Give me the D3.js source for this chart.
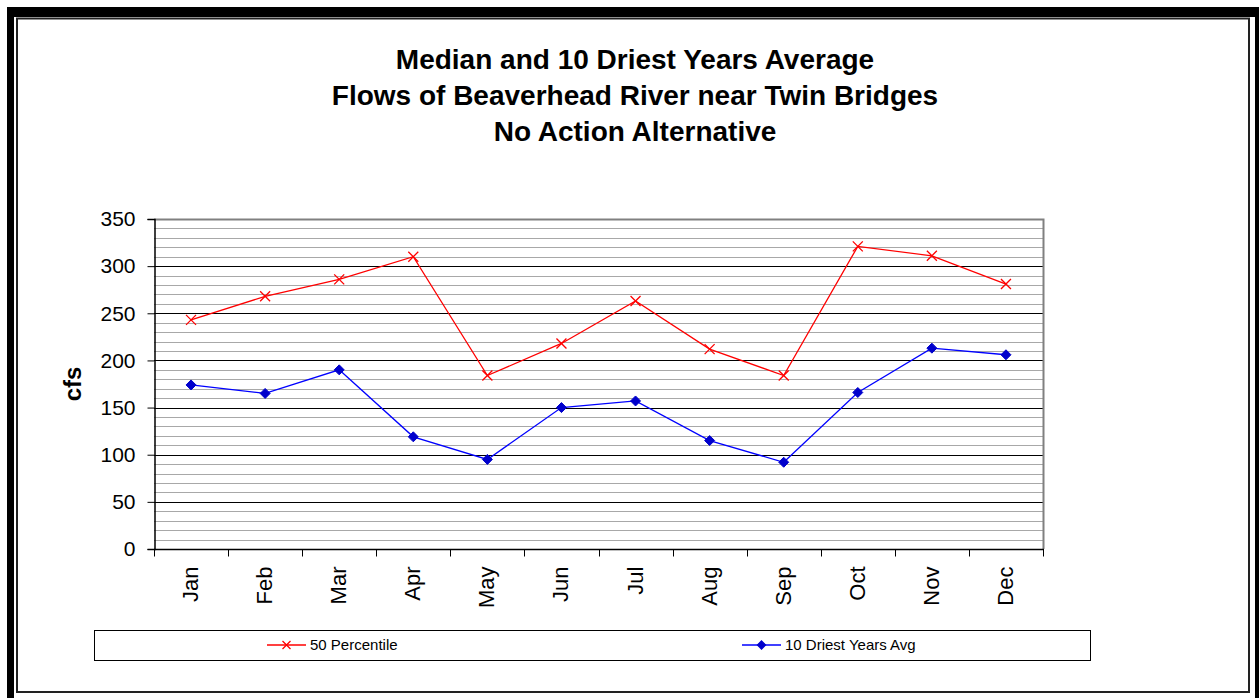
<!DOCTYPE html>
<html>
<head>
<meta charset="utf-8">
<script src="https://cdn.jsdelivr.net/npm/d3@7"></script>
<style>
  body { margin: 0; background: #fff; }
  text { font-family: Arial, "Liberation Sans", sans-serif; }
</style>
</head>
<body>
<script>
// chart data
const months = ["Jan", "Feb", "Mar", "Apr", "May", "Jun", "Jul", "Aug", "Sep", "Oct", "Nov", "Dec"];
const percentile50 = [243, 268, 286, 310, 184, 218, 263, 212, 184, 321, 311, 281];
const driestAvg = [174, 165, 190, 119, 95, 150, 157, 115, 92, 166, 213, 206];
const yTicks = [0, 50, 100, 150, 200, 250, 300, 350];
const titleLines = ["Median and 10 Driest Years Average", "Flows of Beaverhead River near Twin Bridges", "No Action Alternative"];

const W = 1259, H = 698;
const plot = { left: 154, top: 219, right: 1043, bottom: 549 };

let svg = d3.select("body").append("svg")
    .attr("width", W)
    .attr("height", H);

// outer frame
svg.append("rect").attr("x", 7).attr("y", 7).attr("width", W - 7).attr("height", H - 7).attr("fill", "#000");
svg.append("rect").attr("x", 14).attr("y", 17).attr("width", 1255 - 14).attr("height", H - 17).attr("fill", "#fff");
svg.append("rect")
    .attr("x", 17).attr("y", 18.5)
    .attr("width", 1249 - 17).attr("height", 692 - 18.5)
    .attr("fill", "none")
    .attr("stroke", "#222")
    .attr("stroke-width", 2);

// title
svg.append("text")
    .attr("text-anchor", "middle")
    .attr("font-size", 28)
    .attr("font-weight", "bold")
    .selectAll("tspan")
    .data(titleLines)
    .enter().append("tspan")
    .attr("x", 635)
    .attr("y", (d, i) => 69 + i * 36)
    .text(d => d);

const x = d3.scaleBand().domain(months).range([plot.left, plot.right]);
const y = d3.scaleLinear().domain([0, 350]).range([plot.bottom, plot.top]);

// minor grid
svg.append("g")
    .selectAll("line")
    .data(d3.range(10, 350, 10).filter(v => v % 50 != 0))
    .enter().append("line")
    .attr("x1", plot.left).attr("x2", plot.right)
    .attr("y1", d => Math.round(y(d)) + 0.5).attr("y2", d => Math.round(y(d)) + 0.5)
    .attr("stroke", "#a8a8a8");

// major grid
svg.append("g")
    .selectAll("line")
    .data(yTicks.slice(1, -1))
    .enter().append("line")
    .attr("x1", plot.left).attr("x2", plot.right)
    .attr("y1", d => Math.round(y(d)) + 0.5).attr("y2", d => Math.round(y(d)) + 0.5)
    .attr("stroke", "#000");

// plot area border (top/right gray)
svg.append("path")
    .attr("d", `M${plot.left},${plot.top + 0.5}H${plot.right + 0.5}V${plot.bottom}`)
    .attr("fill", "none")
    .attr("stroke", "#808080")
    .attr("stroke-width", 2);

// y axis
let yAxis = svg.append("g")
    .attr("transform", `translate(${plot.left + 0.5},0)`)
    .call(d3.axisLeft(y).tickValues(yTicks).tickSize(7).tickPadding(12));
yAxis.selectAll("text").attr("font-size", 21).attr("fill", "#000").attr("font-family", "Arial, 'Liberation Sans', sans-serif");
yAxis.selectAll("line").attr("stroke", "#000");
yAxis.select(".domain").attr("stroke", "#000").attr("stroke-width", 1.5);

// x axis
let xAxis = svg.append("g")
    .attr("transform", `translate(0,${plot.bottom + 0.5})`);
xAxis.append("line")
    .attr("x1", plot.left).attr("x2", plot.right + 1)
    .attr("stroke", "#000").attr("stroke-width", 1.5);
xAxis.selectAll(".tick")
    .data(months.concat(["end"]))
    .enter().append("line")
    .attr("x1", (d, i) => Math.round(plot.left + i * x.step()) + 0.5)
    .attr("x2", (d, i) => Math.round(plot.left + i * x.step()) + 0.5)
    .attr("y1", 0).attr("y2", 7)
    .attr("stroke", "#000");
xAxis.selectAll("text")
    .data(months)
    .enter().append("text")
    .attr("transform", d => `translate(${x(d) + x.bandwidth() / 2 + 7},17) rotate(-90)`)
    .attr("text-anchor", "end")
    .attr("font-size", 22)
    .text(d => d);

// y label
svg.append("text")
    .attr("transform", "translate(81,384) rotate(-90)")
    .attr("text-anchor", "middle")
    .attr("font-size", 24)
    .attr("font-weight", "bold")
    .text("cfs");

const cx = d => x(d) + x.bandwidth() / 2;
const line = d3.line().x(d => cx(d[0])).y(d => y(d[1]));

// 50 percentile
const redPts = months.map((m, i) => [m, percentile50[i]]);
svg.append("path")
    .attr("d", line(redPts))
    .attr("fill", "none").attr("stroke", "#ff0000").attr("stroke-width", 1.3);
svg.append("g").selectAll("path")
    .data(redPts)
    .enter().append("path")
    .attr("d", d => {
        const px = cx(d[0]), py = y(d[1]), s = 5;
        return `M${px - s},${py - s}L${px + s},${py + s}M${px - s},${py + s}L${px + s},${py - s}`;
    })
    .attr("stroke", "#ff0000").attr("stroke-width", 1.3);

// 10 driest years avg
const bluePts = months.map((m, i) => [m, driestAvg[i]]);
svg.append("path")
    .attr("d", line(bluePts))
    .attr("fill", "none").attr("stroke", "#0000ff").attr("stroke-width", 1.3);
svg.append("g").selectAll("path")
    .data(bluePts)
    .enter().append("path")
    .attr("d", d => {
        const px = cx(d[0]), py = y(d[1]), s = 5;
        return `M${px},${py - s}L${px + s},${py}L${px},${py + s}L${px - s},${py}Z`;
    })
    .attr("fill", "#0000cc").attr("stroke", "#0000cc");

// legend
svg.append("rect")
    .attr("x", 94.5).attr("y", 630.5)
    .attr("width", 1090 - 94).attr("height", 30)
    .attr("fill", "#fff").attr("stroke", "#000");
const legendItems = [
    { label: "50 Percentile", color: "#ff0000", x: 267, marker: "x" },
    { label: "10 Driest Years Avg", color: "#0000ff", x: 742, marker: "d" }
];
let leg = svg.append("g").selectAll("g")
    .data(legendItems)
    .enter().append("g")
    .attr("transform", d => `translate(${d.x},645)`);
leg.append("line")
    .attr("x1", 0).attr("x2", 39)
    .attr("stroke", d => d.color).attr("stroke-width", 1.3);
leg.append("path")
    .attr("d", d => d.marker == "x"
        ? "M15.5,-4L23.5,4M15.5,4L23.5,-4"
        : "M19.5,-4L23.5,0L19.5,4L15.5,0Z")
    .attr("fill", "#0000cc")
    .attr("stroke", d => d.marker == "x" ? d.color : "#0000cc")
    .attr("stroke-width", 1.3);
leg.append("text")
    .attr("x", 43).attr("y", 5)
    .attr("font-size", 15)
    .text(d => d.label);
</script>
</body>
</html>
